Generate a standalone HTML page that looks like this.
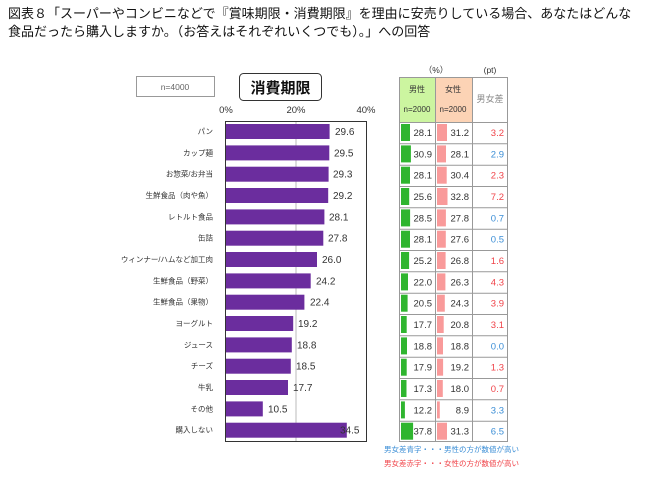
<!DOCTYPE html>
<html><head><meta charset="utf-8"><style>
body{margin:0;background:#fff;width:650px;height:488px;overflow:hidden}
svg{font-family:"Liberation Sans","Noto Sans CJK JP",sans-serif}
</style></head><body>
<svg width="650" height="488" xmlns="http://www.w3.org/2000/svg">
<text x="8" y="18" font-size="13" fill="#111">図表８「スーパーやコンビニなどで『賞味期限・消費期限』を理由に安売りしている場合、あなたはどんな</text>
<text x="8" y="36" font-size="13" fill="#111">食品だったら購入しますか。（お答えはそれぞれいくつでも）。」への回答</text>
<rect x="136.5" y="76.5" width="78" height="20" fill="#fff" stroke="#999"/>
<text x="175" y="90" font-size="8.5" fill="#666" text-anchor="middle">n=4000</text>
<rect x="239.5" y="73.5" width="82" height="27" rx="4" fill="#fff" stroke="#333"/>
<text x="280.5" y="93" font-size="15" font-weight="bold" fill="#111" text-anchor="middle">消費期限</text>
<g font-size="9.5" fill="#333" text-anchor="middle"><text x="226" y="113">0%</text><text x="296" y="113">20%</text><text x="366" y="113">40%</text></g>
<line x1="296" y1="122" x2="296" y2="441" stroke="#bbb"/>
<rect x="225.5" y="121.5" width="141" height="320" fill="none" stroke="#333"/>
<g fill="#6b2d9e">
<rect x="226" y="124" width="103.6" height="15"/><rect x="226" y="145.4" width="103.3" height="15"/><rect x="226" y="166.7" width="102.6" height="15"/><rect x="226" y="188" width="102.2" height="15"/><rect x="226" y="209.4" width="98.4" height="15"/><rect x="226" y="230.7" width="97.3" height="15"/><rect x="226" y="252" width="91" height="15"/><rect x="226" y="273.4" width="84.7" height="15"/><rect x="226" y="294.7" width="78.4" height="15"/><rect x="226" y="316" width="67.2" height="15"/><rect x="226" y="337.4" width="65.8" height="15"/><rect x="226" y="358.7" width="64.8" height="15"/><rect x="226" y="380" width="62" height="15"/><rect x="226" y="401.4" width="36.8" height="15"/><rect x="226" y="422.7" width="120.8" height="15"/>
</g>
<g font-size="10" fill="#333">
<text x="335" y="135">29.6</text><text x="334" y="156.4">29.5</text><text x="333" y="177.7">29.3</text><text x="333" y="199">29.2</text><text x="329" y="220.4">28.1</text><text x="328" y="241.7">27.8</text><text x="322" y="263">26.0</text><text x="316" y="284.4">24.2</text><text x="310" y="305.7">22.4</text><text x="298" y="327">19.2</text><text x="297" y="348.4">18.8</text><text x="296" y="369.7">18.5</text><text x="293" y="391">17.7</text><text x="268" y="412.4">10.5</text><text x="340" y="433.7">34.5</text>
</g>
<g font-size="7.5" fill="#333" text-anchor="end">
<text x="213" y="134">パン</text><text x="213" y="155.4">カップ麺</text><text x="213" y="176.7">お惣菜/お弁当</text><text x="213" y="198">生鮮食品（肉や魚）</text><text x="213" y="219.4">レトルト食品</text><text x="213" y="240.7">缶詰</text><text x="213" y="262">ウィンナー/ハムなど加工肉</text><text x="213" y="283.4">生鮮食品（野菜）</text><text x="213" y="304.7">生鮮食品（果物）</text><text x="213" y="326">ヨーグルト</text><text x="213" y="347.4">ジュース</text><text x="213" y="368.7">チーズ</text><text x="213" y="390">牛乳</text><text x="213" y="411.4">その他</text><text x="213" y="432.7">購入しない</text>
</g>
<!-- table -->
<text x="436" y="73" font-size="8.5" fill="#333" text-anchor="middle">（%）</text>
<text x="490" y="73" font-size="8.5" fill="#333" text-anchor="middle">(pt)</text>
<rect x="399" y="77" width="36" height="45" fill="#ccf5a0"/>
<rect x="435" y="77" width="37" height="45" fill="#fcd3b5"/>
<g font-size="8" fill="#333" text-anchor="middle"><text x="417" y="92">男性</text><text x="417" y="112">n=2000</text><text x="453" y="92">女性</text><text x="453" y="112">n=2000</text></g>
<text x="490" y="102" font-size="9" fill="#888" text-anchor="middle">男女差</text>
<g stroke="#999" fill="none">
<rect x="399.5" y="77.5" width="108" height="364"/>
<line x1="435.5" y1="77" x2="435.5" y2="442"/><line x1="472.5" y1="77" x2="472.5" y2="442"/>
<line x1="399" y1="122.5" x2="508" y2="122.5"/><line x1="399" y1="143.8" x2="508" y2="143.8"/><line x1="399" y1="165.2" x2="508" y2="165.2"/><line x1="399" y1="186.5" x2="508" y2="186.5"/><line x1="399" y1="207.8" x2="508" y2="207.8"/><line x1="399" y1="229.2" x2="508" y2="229.2"/><line x1="399" y1="250.5" x2="508" y2="250.5"/><line x1="399" y1="271.8" x2="508" y2="271.8"/><line x1="399" y1="293.2" x2="508" y2="293.2"/><line x1="399" y1="314.5" x2="508" y2="314.5"/><line x1="399" y1="335.8" x2="508" y2="335.8"/><line x1="399" y1="357.2" x2="508" y2="357.2"/><line x1="399" y1="378.5" x2="508" y2="378.5"/><line x1="399" y1="399.8" x2="508" y2="399.8"/><line x1="399" y1="421.2" x2="508" y2="421.2"/>
</g>
<g fill="#2fb52f">
<rect x="401" y="124" width="9" height="17"/><rect x="401" y="145.4" width="9.9" height="17"/><rect x="401" y="166.7" width="9" height="17"/><rect x="401" y="188" width="8.2" height="17"/><rect x="401" y="209.4" width="9.1" height="17"/><rect x="401" y="230.7" width="9" height="17"/><rect x="401" y="252" width="8.1" height="17"/><rect x="401" y="273.4" width="7" height="17"/><rect x="401" y="294.7" width="6.6" height="17"/><rect x="401" y="316" width="5.7" height="17"/><rect x="401" y="337.4" width="6" height="17"/><rect x="401" y="358.7" width="5.7" height="17"/><rect x="401" y="380" width="5.5" height="17"/><rect x="401" y="401.4" width="3.9" height="17"/><rect x="401" y="422.7" width="12.1" height="17"/>
</g>
<g fill="#f99a9a">
<rect x="437" y="124" width="10" height="17"/><rect x="437" y="145.4" width="9" height="17"/><rect x="437" y="166.7" width="9.7" height="17"/><rect x="437" y="188" width="10.5" height="17"/><rect x="437" y="209.4" width="8.9" height="17"/><rect x="437" y="230.7" width="8.8" height="17"/><rect x="437" y="252" width="8.6" height="17"/><rect x="437" y="273.4" width="8.4" height="17"/><rect x="437" y="294.7" width="7.8" height="17"/><rect x="437" y="316" width="6.7" height="17"/><rect x="437" y="337.4" width="6" height="17"/><rect x="437" y="358.7" width="6.1" height="17"/><rect x="437" y="380" width="5.8" height="17"/><rect x="437" y="401.4" width="2.8" height="17"/><rect x="437" y="422.7" width="10" height="17"/>
</g>
<g font-size="9.5" fill="#333" text-anchor="end">
<text x="432" y="136">28.1</text><text x="432" y="157.4">30.9</text><text x="432" y="178.7">28.1</text><text x="432" y="200">25.6</text><text x="432" y="221.4">28.5</text><text x="432" y="242.7">28.1</text><text x="432" y="264">25.2</text><text x="432" y="285.4">22.0</text><text x="432" y="306.7">20.5</text><text x="432" y="328">17.7</text><text x="432" y="349.4">18.8</text><text x="432" y="370.7">17.9</text><text x="432" y="392">17.3</text><text x="432" y="413.4">12.2</text><text x="432" y="434.7">37.8</text>
<text x="469" y="136">31.2</text><text x="469" y="157.4">28.1</text><text x="469" y="178.7">30.4</text><text x="469" y="200">32.8</text><text x="469" y="221.4">27.8</text><text x="469" y="242.7">27.6</text><text x="469" y="264">26.8</text><text x="469" y="285.4">26.3</text><text x="469" y="306.7">24.3</text><text x="469" y="328">20.8</text><text x="469" y="349.4">18.8</text><text x="469" y="370.7">19.2</text><text x="469" y="392">18.0</text><text x="469" y="413.4">8.9</text><text x="469" y="434.7">31.3</text>
</g>
<g font-size="9.5" text-anchor="end">
<text x="504" y="136" fill="#f0444a">3.2</text><text x="504" y="157.4" fill="#3b8ed6">2.9</text><text x="504" y="178.7" fill="#f0444a">2.3</text><text x="504" y="200" fill="#f0444a">7.2</text><text x="504" y="221.4" fill="#3b8ed6">0.7</text><text x="504" y="242.7" fill="#3b8ed6">0.5</text><text x="504" y="264" fill="#f0444a">1.6</text><text x="504" y="285.4" fill="#f0444a">4.3</text><text x="504" y="306.7" fill="#f0444a">3.9</text><text x="504" y="328" fill="#f0444a">3.1</text><text x="504" y="349.4" fill="#3b8ed6">0.0</text><text x="504" y="370.7" fill="#f0444a">1.3</text><text x="504" y="392" fill="#f0444a">0.7</text><text x="504" y="413.4" fill="#3b8ed6">3.3</text><text x="504" y="434.7" fill="#3b8ed6">6.5</text>
</g>
<text x="384" y="452" font-size="7.5" fill="#3b8ed6">男女差青字・・・男性の方が数値が高い</text>
<text x="384" y="466" font-size="7.5" fill="#f0444a">男女差赤字・・・女性の方が数値が高い</text>
</svg>
</body></html>
